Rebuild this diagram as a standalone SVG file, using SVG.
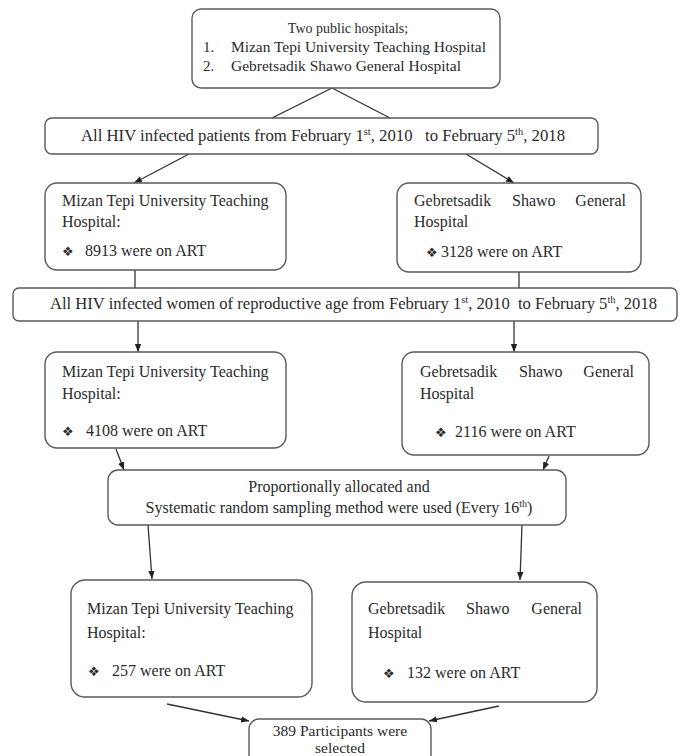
<svg xmlns="http://www.w3.org/2000/svg" width="682" height="756" viewBox="0 0 682 756">
<defs>
<marker id="ah" viewBox="0 0 10 10" refX="10" refY="5" markerWidth="8" markerHeight="8" orient="auto" markerUnits="userSpaceOnUse">
<path d="M0,1 L10,5 L0,9 z" fill="#222"/>
</marker>
<style>
.box{fill:#fff;stroke:#5a5a5a;stroke-width:1.4}
.t{font-family:"Liberation Serif","Times New Roman",serif;fill:#2a2a2a;font-size:16px}
.s{font-size:15px}
.m{text-anchor:middle}
.e{text-anchor:end}
.c{stroke:#333;stroke-width:1.3;fill:none}
.a{marker-end:url(#ah)}
.b{font-family:"DejaVu Sans",sans-serif;font-size:13px;fill:#2a2a2a}
.sup{font-size:10px}
</style>
</defs>
<rect width="682" height="756" fill="#fff"/>
<g id="connectors">
<path class="c" d="M332,88 L272,118"/>
<path class="c" d="M332,88 L390,118"/>
<path class="c a" d="M189,154 L134,183"/>
<path class="c a" d="M466,154 L514,183"/>
<path class="c" d="M135,270 L135,288"/>
<path class="c" d="M519,272 L519,288"/>
<path class="c a" d="M138,321 L138,352"/>
<path class="c a" d="M514,321 L514,352"/>
<path class="c a" d="M116,449 L124,470"/>
<path class="c a" d="M549,456 L543,470"/>
<path class="c a" d="M148,525 L152,579"/>
<path class="c a" d="M522,525 L520,580"/>
<path class="c a" d="M167,704 L249,721"/>
<path class="c a" d="M499,706 L429,721"/>
</g>
<g id="n-top">
<rect class="box" x="192" y="9" width="308" height="79" rx="9"/>
<text class="t m" x="348" y="33" style="font-size:14px">Two public hospitals;</text>
<text class="t s" x="203" y="52">1.</text>
<text class="t s" x="231" y="52" textLength="255" lengthAdjust="spacingAndGlyphs">Mizan Tepi University Teaching Hospital</text>
<text class="t s" x="203" y="71">2.</text>
<text class="t s" x="231" y="71" textLength="230" lengthAdjust="spacingAndGlyphs">Gebretsadik Shawo General Hospital</text>
</g>
<g id="n-band1">
<rect class="box" x="45" y="118" width="553" height="36" rx="7"/>
<text class="t" x="81" y="141" xml:space="preserve" textLength="484" lengthAdjust="spacingAndGlyphs">All HIV infected patients from February 1<tspan class="sup" dy="-6">st</tspan><tspan dy="6">, 2010   to February 5</tspan><tspan class="sup" dy="-6">th</tspan><tspan dy="6">, 2018</tspan></text>
</g>
<g id="n-a1">
<rect class="box" x="45" y="183" width="241" height="87" rx="12"/>
<text class="t" x="62" y="206">Mizan Tepi University Teaching</text>
<text class="t" x="62" y="227">Hospital:</text>
<text class="b" x="62" y="256">❖</text>
<text class="t" x="85" y="256">8913 were on ART</text>
</g>
<g id="n-b1">
<rect class="box" x="397" y="183" width="244" height="89" rx="12"/>
<text class="t" x="414" y="206">Gebretsadik</text>
<text class="t" x="512" y="206">Shawo</text>
<text class="t e" x="626" y="206">General</text>
<text class="t" x="414" y="227">Hospital</text>
<text class="b" x="426" y="257">❖</text>
<text class="t" x="441" y="257">3128 were on ART</text>
</g>
<g id="n-band2">
<rect class="box" x="13" y="288" width="664" height="33" rx="6"/>
<text class="t" x="50" y="309" xml:space="preserve" textLength="607" lengthAdjust="spacingAndGlyphs">All HIV infected women of reproductive age from February 1<tspan class="sup" dy="-6">st</tspan><tspan dy="6">, 2010  to February 5</tspan><tspan class="sup" dy="-6">th</tspan><tspan dy="6">, 2018</tspan></text>
</g>
<g id="n-a2">
<rect class="box" x="45" y="352" width="241" height="96" rx="12"/>
<text class="t" x="62" y="377">Mizan Tepi University Teaching</text>
<text class="t" x="62" y="399">Hospital:</text>
<text class="b" x="62" y="436">❖</text>
<text class="t" x="86" y="436">4108 were on ART</text>
</g>
<g id="n-b2">
<rect class="box" x="402" y="352" width="247" height="103" rx="12"/>
<text class="t" x="420" y="377">Gebretsadik</text>
<text class="t" x="519" y="377">Shawo</text>
<text class="t e" x="634" y="377">General</text>
<text class="t" x="420" y="399">Hospital</text>
<text class="b" x="435" y="437">❖</text>
<text class="t" x="455" y="437">2116 were on ART</text>
</g>
<g id="n-sampling">
<rect class="box" x="108" y="470" width="458" height="55" rx="10"/>
<text class="t m" x="339" y="492">Proportionally allocated and</text>
<text class="t m" x="339" y="513">Systematic random sampling method were used (Every 16<tspan class="sup" dy="-6">th</tspan><tspan dy="6">)</tspan></text>
</g>
<g id="n-a3">
<rect class="box" x="71" y="580" width="241" height="117" rx="14"/>
<text class="t" x="87" y="614">Mizan Tepi University Teaching</text>
<text class="t" x="87" y="638">Hospital:</text>
<text class="b" x="88" y="676">❖</text>
<text class="t" x="112" y="676">257 were on ART</text>
</g>
<g id="n-b3">
<rect class="box" x="352" y="582" width="245" height="120" rx="14"/>
<text class="t" x="368" y="614">Gebretsadik</text>
<text class="t" x="466" y="614">Shawo</text>
<text class="t e" x="582" y="614">General</text>
<text class="t" x="368" y="638">Hospital</text>
<text class="b" x="383" y="678">❖</text>
<text class="t" x="407" y="678">132 were on ART</text>
</g>
<g id="n-final">
<rect class="box" x="249" y="719" width="182" height="50" rx="10"/>
<text class="t m" x="340" y="736" style="font-size:15.5px">389 Participants were</text>
<text class="t m" x="340" y="753" style="font-size:15.5px">selected</text>
</g>
</svg>
